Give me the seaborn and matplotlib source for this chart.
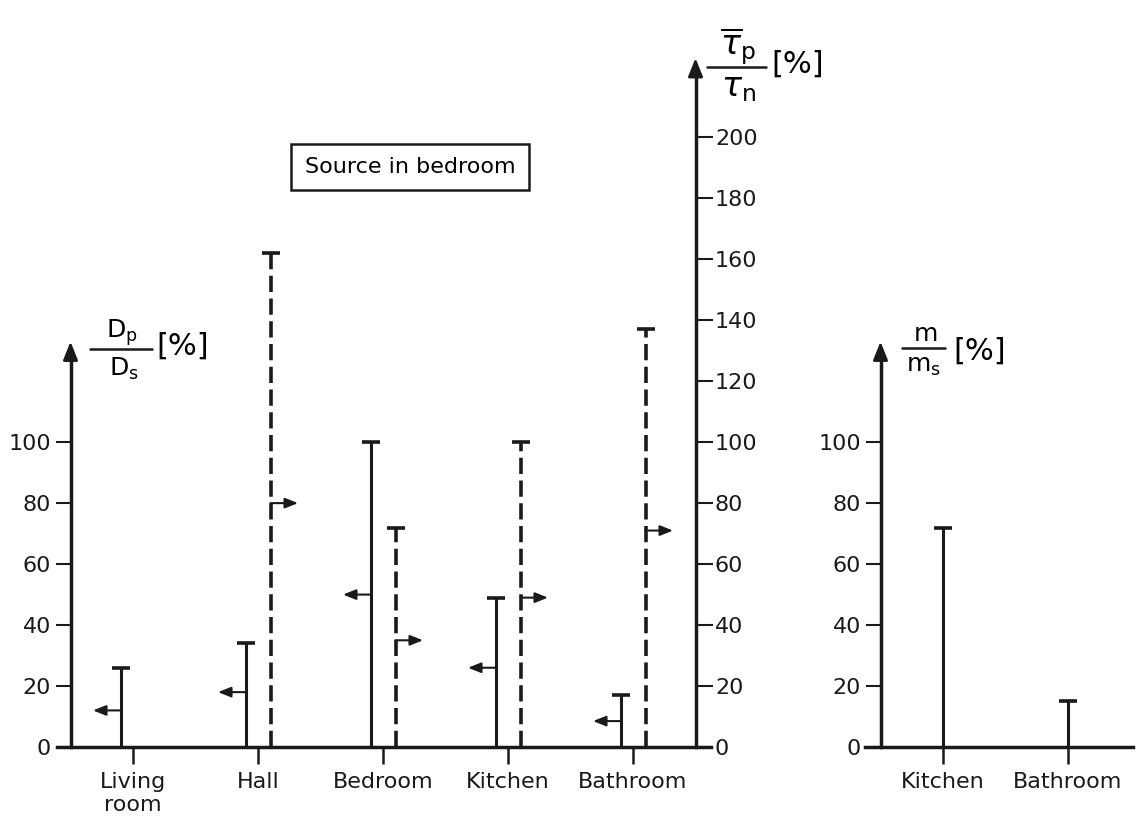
import numpy as np
import pandas as pd
import seaborn as sns
import matplotlib.pyplot as plt
from matplotlib.lines import Line2D

# values
rooms = ['Living\nroom', 'Hall', 'Bedroom', 'Kitchen', 'Bathroom']
d_ratio = [26, 34, 100, 49, 17]          # Dp/Ds [%], left axis, solid lines
d_arrow_at = [12, 18, 50, 26, 8.5]       # height of the "<-" markers
tau_rooms = ['Hall', 'Bedroom', 'Kitchen', 'Bathroom']
tau_ratio = [162, 72, 100, 137]          # tau_p/tau_n [%], right axis, dashed lines
tau_arrow_at = [80, 35, 49, 71]          # height of the "->" markers
m_rooms = ['Kitchen', 'Bathroom']
m_ratio = [72, 15]                       # m/ms [%], right panel

sns.set_theme(style='white')
plt.rcParams['font.family'] = ['DejaVu Sans']
plt.rcParams['mathtext.fontset'] = 'dejavusans'
for k in ['text.color', 'axes.labelcolor', 'xtick.color', 'ytick.color', 'axes.edgecolor']:
    plt.rcParams[k] = 'black'

W, H = 1147, 826
fig = plt.figure(figsize=(W / 100, H / 100), dpi=100)


def px_axes(x0, x1, y_top, y_bot):
    return fig.add_axes([x0 / W, 1 - y_bot / H, (x1 - x0) / W, (y_bot - y_top) / H])


def ftext(x, y, s, **kw):
    fig.text(x / W, 1 - y / H, s, ha='center', va='center', **kw)


def fline(x0, x1, y, lw=1.8):
    fig.add_artist(Line2D([x0 / W, x1 / W], [1 - y / H, 1 - y / H],
                          transform=fig.transFigure, color='k', lw=lw))


def axis_arrow(ax, x, y1):
    # arrow head only, sitting on top of the spine
    ax.annotate('', xy=(x, y1), xytext=(x, y1 - 5.5), annotation_clip=False,
                arrowprops=dict(arrowstyle='-|>,head_length=0.55,head_width=0.22',
                                mutation_scale=20, lw=2.0, color='k',
                                shrinkA=0, shrinkB=0))


def side_arrow(ax, x, y, dx):
    ax.annotate('', xy=(x + dx, y), xytext=(x, y), annotation_clip=False,
                arrowprops=dict(arrowstyle='-|>,head_length=0.55,head_width=0.22',
                                mutation_scale=14, lw=1.5, color='k',
                                shrinkA=0, shrinkB=0))


def style_axes(ax, xmax):
    for s in ['top', 'right']:
        ax.spines[s].set_visible(False)
    for s in ['left', 'bottom']:
        ax.spines[s].set_linewidth(2.5)
        ax.spines[s].set_color('k')
    ax.spines['left'].set_position(('data', -0.5))
    ax.spines['left'].set_bounds(0, 129)
    ax.spines['bottom'].set_bounds(ax.get_xlim()[0], xmax)
    ax.set_yticks(range(0, 101, 20))
    ax.tick_params(axis='y', direction='out', length=11, width=1.5, pad=3,
                   labelsize=16, left=True, colors='k')
    ax.tick_params(axis='x', direction='out', length=12, width=1.8, pad=6,
                   labelsize=16, bottom=True, colors='k')
    axis_arrow(ax, -0.5, 133)


# ---- left panel -----------------------------------------------------------
ax = px_axes(57, 712, 55, 747)
ax.set_xlim(-0.608, 4.632)
ax.set_ylim(0, 227)

pos = np.arange(len(rooms))
solid_x = pos - 0.1
tau_x = np.array([rooms.index(r) for r in tau_rooms]) + 0.1

ax.vlines(solid_x, 0, d_ratio, color='k', lw=2.2)
ax.vlines(tau_x, 0, tau_ratio, color='k', lw=2.6, linestyles=[(0, (4.5, 1.8))])

caps = pd.DataFrame({'x': np.concatenate([solid_x, tau_x]),
                     'y': d_ratio + tau_ratio})
sns.scatterplot(data=caps, x='x', y='y', marker='_', s=170, color='k',
                linewidth=2.6, ax=ax, clip_on=False, legend=False)

for x, y in zip(solid_x, d_arrow_at):
    side_arrow(ax, x, y, -0.22)
for x, y in zip(tau_x, tau_arrow_at):
    side_arrow(ax, x, y, 0.22)

ax.set_xticks(pos)
ax.set_xticklabels(rooms)
ax.set_xlabel('')
ax.set_ylabel('')
style_axes(ax, 4.62)

ax2 = ax.twinx()
ax2.set_ylim(0, 227)
for s in ['top', 'left', 'bottom']:
    ax2.spines[s].set_visible(False)
ax2.spines['right'].set_position(('data', 4.5))
ax2.spines['right'].set_linewidth(2.5)
ax2.spines['right'].set_color('k')
ax2.spines['right'].set_bounds(0, 222)
ax2.set_yticks(range(0, 201, 20))
ax2.tick_params(axis='y', direction='out', length=12, width=1.5, pad=2,
                labelsize=16, right=True, colors='k')
axis_arrow(ax2, 4.5, 226)

# ---- right panel ----------------------------------------------------------
axm = px_axes(865, 1135, 55, 747)
axm.set_xlim(-0.624, 1.536)
axm.set_ylim(0, 227)
mpos = np.arange(len(m_rooms))
axm.vlines(mpos, 0, m_ratio, color='k', lw=2.2)
sns.scatterplot(x=mpos, y=m_ratio, marker='_', s=170, color='k',
                linewidth=2.6, ax=axm, clip_on=False, legend=False)
axm.set_xticks(mpos)
axm.set_xticklabels(m_rooms)
style_axes(axm, 1.52)

for a in (ax, ax2, axm):
    a.set_facecolor('none')
    a.grid(False)

# ---- axis titles and the box ------------------------------------------------
# Dp / Ds [%]
ftext(122, 333, r'D$_\mathrm{p}$', fontsize=18)
fline(90, 152, 349)
ftext(124, 369, r'D$_\mathrm{s}$', fontsize=18)
ftext(183, 346, '[%]', fontsize=22)
# tau_p / tau_n [%]
ftext(738, 47, r'$\overline{\tau}_\mathrm{p}$', fontsize=24)
fline(707, 766, 67)
ftext(738, 88, r'$\tau_\mathrm{n}$', fontsize=24)
ftext(798, 64, '[%]', fontsize=22)
# m / ms [%]
ftext(926, 334, 'm', fontsize=18)
fline(902, 945, 348)
ftext(923, 366, r'm$_\mathrm{s}$', fontsize=18)
ftext(980, 351, '[%]', fontsize=22)

ftext(410, 167, 'Source in bedroom', fontsize=16,
      bbox=dict(boxstyle='square,pad=0.6', fc='white', ec='k', lw=1.8))

fig.savefig('out.png', dpi=100, facecolor='white')
